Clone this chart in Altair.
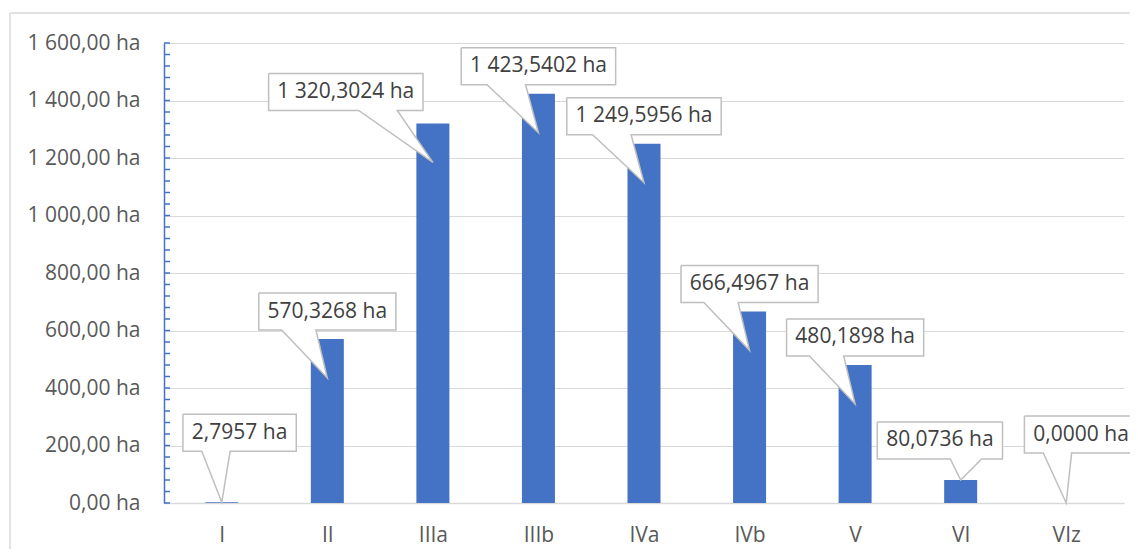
import altair as alt
import pandas as pd

# ---------------- data ----------------
categories = ["I", "II", "IIIa", "IIIb", "IVa", "IVb", "V", "VI", "VIz"]
areas = [2.7957, 570.3268, 1320.3024, 1423.5402, 1249.5956, 666.4967, 480.1898, 80.0736, 0.0]
y_grid = [0, 200, 400, 600, 800, 1000, 1200, 1400, 1600]
y_minor = list(range(0, 1601, 40))

# ---------------- style ----------------
W, H = 960, 460
Y_MAX = 1600
N = len(categories)
PX_X = W / N          # pixels per x unit
PX_Y = H / Y_MAX      # pixels per y unit
FONT = "Open Sans"
FS = 21
BAR = "#4472C4"
GRID = "#d9d9d9"
AXIS_TXT = "#595959"
LBL_TXT = "#404040"
CALLOUT = "#bfbfbf"

# manual nudges of the Excel callout boxes (pixels: dx, extra gap)
callout_nudge = {"I": (18, 3), "IIIa": (-88, 4), "VI": (-21, -27), "VIz": (15, 2)}
TIP_INSET = 39      # pointer tip sits this many px below the bar top
GAP = 48            # px between tip and box bottom
BOX_H = 37
BOX_PAD = 19

CHAR_EM = {",": 0.26, " ": 0.26, "h": 0.613, "a": 0.556}


def text_w(s):
    return sum(CHAR_EM.get(c, 0.572) for c in s) * FS


def fmt(v):
    return f"{v:,.4f}".replace(",", " ").replace(".", ",") + " ha"


bars = pd.DataFrame({"cat": categories, "area": areas,
                     "cx": [i + 0.5 for i in range(N)]})

poly_rows, text_rows = [], []
for i, (c, v) in enumerate(zip(categories, areas)):
    cx = i + 0.5
    tip = v - TIP_INSET / PX_Y
    if tip <= 0:
        tip = v
    ndx, ndy = callout_nudge.get(c, (0, 0))
    lab = fmt(v)
    w = text_w(lab) + BOX_PAD
    bcx = cx + ndx / PX_X
    L = bcx - w / 2 / PX_X
    R = bcx + w / 2 / PX_X
    B = tip + (GAP + ndy) / PX_Y
    T = B + BOX_H / PX_Y
    if ndx < 0:
        b1, b2 = L + 7 / 12 * w / PX_X, L + 10 / 12 * w / PX_X
    else:
        b1, b2 = L + 2 / 12 * w / PX_X, L + 5 / 12 * w / PX_X
    pts = [(L, T), (R, T), (R, B), (b2, B), (cx, tip), (b1, B), (L, B), (L, T)]
    for k, (px, py) in enumerate(pts):
        poly_rows.append({"cat": c, "k": k, "px": px, "py": py})
    text_rows.append({"cat": c, "label": lab, "tx": bcx, "ty": (B + T) / 2})

poly = pd.DataFrame(poly_rows)
texts = pd.DataFrame(text_rows)

xscale = alt.Scale(domain=[0, N], nice=False, zero=False)
yscale = alt.Scale(domain=[0, Y_MAX], nice=False, zero=True)

cat_js = "[" + ",".join(f"'{c}'" for c in categories) + "]"

x_axis = alt.Axis(
    values=[i + 0.5 for i in range(N)],
    labelExpr=f"{cat_js}[floor(datum.value)]",
    title=None,
)
y_axis = alt.Axis(
    values=y_grid, title=None,
    labelExpr="replace(replace(format(datum.value, ',.2f'), ',', ' '), '.', ',') + ' ha'",
)

bar_layer = alt.Chart(bars).mark_bar(size=33, color=BAR, orient="vertical").encode(
    x=alt.X("cx:Q", scale=xscale, axis=x_axis),
    y=alt.Y("area:Q", scale=yscale, axis=y_axis),
)

callout_layer = alt.Chart(poly).mark_line(
    fill="white", stroke=CALLOUT, strokeWidth=1.5, strokeJoin="miter", interpolate="linear"
).encode(
    x=alt.X("px:Q", scale=xscale, title=None),
    y=alt.Y("py:Q", scale=yscale, title=None),
    detail="cat:N",
    order="k:Q",
)

text_layer = alt.Chart(texts).mark_text(
    font=FONT, fontSize=FS, color=LBL_TXT, align="center", baseline="middle"
).encode(
    x=alt.X("tx:Q", scale=xscale, title=None),
    y=alt.Y("ty:Q", scale=yscale, title=None),
    text="label:N",
)

tick_layer = alt.Chart(pd.DataFrame({"v": y_minor})).mark_rule(color=BAR, strokeWidth=1.5).encode(
    y=alt.Y("v:Q", scale=yscale, title=None),
    x=alt.value(0), x2=alt.value(6),
)

# total SVG size 1122 x 541 so the page (8px margins) fits 1138 x 557 exactly
PAD_L, PAD_T, PAD_R, PAD_B = 156, 35, 6, 46
border_left = alt.Chart(pd.DataFrame({"a": [0]})).mark_rule(color=GRID, strokeWidth=1.5).encode(
    x=alt.value(-154), y=alt.value(-30), y2=alt.value(H + PAD_B))
border_top = alt.Chart(pd.DataFrame({"a": [0]})).mark_rule(color=GRID, strokeWidth=1.5).encode(
    x=alt.value(-154), x2=alt.value(W + PAD_R), y=alt.value(-30))

chart = alt.layer(
    border_left, border_top, bar_layer, callout_layer, text_layer, tick_layer
).properties(
    width=W, height=H,
    autosize=alt.AutoSizeParams(type="none"),
    padding={"left": PAD_L, "top": PAD_T, "right": PAD_R, "bottom": PAD_B},
    background="white",
).configure_view(
    stroke=None
).configure_axisX(
    ticks=False, grid=False, domainColor=GRID, domainWidth=1.5,
    labelFont=FONT, labelFontSize=FS, labelColor=AXIS_TXT, labelPadding=21,
    labelBaseline="top",
).configure_axisY(
    ticks=False, grid=True, gridColor=GRID, gridWidth=1.2,
    domainColor=BAR, domainWidth=1.5,
    labelFont=FONT, labelFontSize=FS, labelColor=AXIS_TXT, labelPadding=24,
)

chart.save("out.html", embed_options={"renderer": "svg", "actions": False})
